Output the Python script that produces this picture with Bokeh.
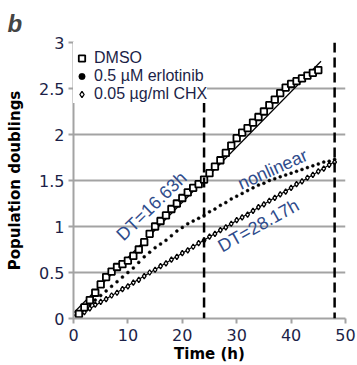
from bokeh.plotting import figure
from bokeh.models import Span, Legend, LegendItem, FixedTicker, ColumnDataSource
from bokeh.core.properties import value
from bokeh.embed import file_html
from bokeh.resources import INLINE

# ---------------- data ----------------
hours_dmso = [0, 1, 2, 3, 4, 5, 6, 7, 8, 9, 10, 11, 12, 13, 14, 15, 16, 17, 18, 19,
              20, 21, 22, 23, 24, 25, 26, 27, 28, 29, 30, 31, 32, 33, 34, 35, 36, 37,
              38, 39, 40, 41, 42, 43, 44, 45]
dmso = [0.00, 0.05, 0.12, 0.20, 0.28, 0.37, 0.45, 0.51, 0.56, 0.59, 0.63, 0.68, 0.75,
        0.83, 0.92, 1.00, 1.06, 1.12, 1.19, 1.25, 1.31, 1.37, 1.42, 1.46, 1.51, 1.58,
        1.65, 1.72, 1.80, 1.88, 1.96, 2.02, 2.07, 2.13, 2.19, 2.25, 2.32, 2.38, 2.45,
        2.51, 2.55, 2.58, 2.61, 2.64, 2.67, 2.70]

hours_drug = [0, 1, 2, 3, 4, 5, 6, 7, 8, 9, 10, 11, 12, 13, 14, 15, 16, 17, 18, 19,
              20, 21, 22, 23, 24, 25, 26, 27, 28, 29, 30, 31, 32, 33, 34, 35, 36, 37,
              38, 39, 40, 41, 42, 43, 44, 45, 46, 47, 48]
erlotinib = [0.00, 0.05, 0.10, 0.15, 0.20, 0.25, 0.30, 0.35, 0.40, 0.45, 0.50, 0.55,
             0.61, 0.67, 0.72, 0.77, 0.81, 0.85, 0.90, 0.95, 0.99, 1.03, 1.06, 1.09,
             1.12, 1.16, 1.19, 1.23, 1.26, 1.30, 1.33, 1.36, 1.39, 1.42, 1.45, 1.47,
             1.50, 1.52, 1.54, 1.56, 1.58, 1.60, 1.62, 1.64, 1.66, 1.68, 1.70, 1.71, 1.73]
chx = [0.00, 0.04, 0.07, 0.11, 0.15, 0.18, 0.21, 0.25, 0.28, 0.32, 0.35, 0.39, 0.42,
       0.46, 0.50, 0.53, 0.57, 0.60, 0.64, 0.67, 0.71, 0.74, 0.78, 0.82, 0.85, 0.89,
       0.92, 0.96, 0.99, 1.03, 1.07, 1.10, 1.13, 1.17, 1.21, 1.24, 1.28, 1.31, 1.35,
       1.38, 1.42, 1.46, 1.49, 1.53, 1.56, 1.60, 1.63, 1.67, 1.70]

dt_dmso = 16.63
dt_chx = 28.17
dmso_fit_intercept = 0.06
dmso_fit_span = [0, 45.5]
chx_fit_span = [0, 48]
marker_times = [24, 48]

x_ticks = [0, 10, 20, 30, 40, 50]
y_ticks = [0, 0.5, 1, 1.5, 2, 2.5, 3]
y_tick_labels = ["0", "0.5", "1", "1.5", "2", "2.5", "3"]
legend_labels = ["DMSO", "0.5 \u00b5M erlotinib", "0.05 \u00b5g/ml CHX"]
annotation_texts = ["DT=16.63h", "nonlinear", "DT=28.17h"]

# ---------------- styles ----------------
GRID = "#a3a3a3"
NAVY = "#1c1f48"
BLUE = "#2f4c8c"

p = figure(width=357, height=365, x_range=(0, 50), y_range=(0, 3),
           output_backend="svg", toolbar_location=None,
           min_border_left=73, min_border_right=12, min_border_top=42,
           min_border_bottom=46)
p.outline_line_color = None
p.background_fill_color = "white"

# title "b"
p.title.text = "b"
p.title.text_font = "Liberation Sans"
p.title.text_font_style = "bold italic"
p.title.text_font_size = "24px"
p.title.align = "left"
p.title.offset = -66
p.title.standoff = 12

# grids
p.xgrid.grid_line_color = None
p.ygrid.grid_line_color = GRID
p.ygrid.grid_line_width = 2

# axes
for ax in (p.xaxis[0], p.yaxis[0]):
    ax.axis_line_color = GRID
    ax.axis_line_width = 2
    ax.major_tick_line_color = GRID
    ax.major_tick_line_width = 2
    ax.major_tick_out = 5
    ax.major_tick_in = 0
    ax.minor_tick_line_color = None
    ax.major_label_text_font = "DejaVu Sans"
    ax.major_label_text_font_size = "16px"
    ax.major_label_text_color = NAVY
    ax.axis_label_text_font = "DejaVu Sans"
    ax.axis_label_text_font_style = "bold"
    ax.axis_label_text_font_size = "15px"
    ax.axis_label_text_color = "black"

p.xaxis.ticker = FixedTicker(ticks=x_ticks)
p.yaxis.ticker = FixedTicker(ticks=y_ticks)
p.yaxis.major_label_overrides = {t: l for t, l in zip(y_ticks, y_tick_labels)}
p.xaxis.axis_label = "Time (h)"
p.yaxis.axis_label = "Population doublings"
p.xaxis.major_label_standoff = 5
p.xaxis.axis_label_standoff = 1
p.yaxis.major_label_standoff = 4
p.yaxis.axis_label_standoff = 12

# dashed time markers
for t in marker_times:
    p.add_layout(Span(location=t, dimension="height", line_color="black",
                      line_width=2.5, line_dash="10 5"))

# fitted lines
dmso_fit_y = [dmso_fit_intercept + t / dt_dmso for t in dmso_fit_span]
chx_fit_y = [t / dt_chx for t in chx_fit_span]
p.line(dmso_fit_span, dmso_fit_y, line_color="black", line_width=1.2)
p.line(chx_fit_span, chx_fit_y, line_color="black", line_width=1.2)

# series
src_dmso = ColumnDataSource(dict(t=hours_dmso, y=dmso))
src_drug = ColumnDataSource(dict(t=hours_drug, e=erlotinib, c=chx))

r_chx = p.scatter("t", "c", source=src_drug, marker="diamond", size=5.5,
                  fill_color="white", line_color="black", line_width=1.3)
r_erl = p.scatter("t", "e", source=src_drug, marker="circle", size=3.0,
                  fill_color="black", line_color="black", line_width=0.5)
r_dmso = p.scatter("t", "y", source=src_dmso, marker="square", size=6.5,
                   fill_color="white", line_color="black", line_width=1.8)

# annotations
p.text(x=[14.35], y=[1.22], text=[annotation_texts[0]], angle=0.77,
       text_font=value("Liberation Sans"), text_font_size="18px",
       text_color=BLUE, text_align="center", text_baseline="middle")
p.text(x=[36.6], y=[1.62], text=[annotation_texts[1]], angle=0.42,
       text_font=value("Liberation Sans"), text_font_size="18px",
       text_color=BLUE, text_align="center", text_baseline="middle")
p.text(x=[34.0], y=[1.01], text=[annotation_texts[2]], angle=0.51,
       text_font=value("Liberation Sans"), text_font_size="18px",
       text_color=BLUE, text_align="center", text_baseline="middle")

# legend
legend = Legend(items=[LegendItem(label=legend_labels[0], renderers=[r_dmso]),
                       LegendItem(label=legend_labels[1], renderers=[r_erl]),
                       LegendItem(label=legend_labels[2], renderers=[r_chx])],
                location="top_left", background_fill_color="white",
                background_fill_alpha=1.0, border_line_color=None,
                title=" ", title_text_font_size="6px", title_standoff=1,
                label_text_font="Liberation Sans", label_text_font_size="16px",
                label_text_line_height=0.9,
                label_text_color=NAVY, glyph_width=17, glyph_height=16,
                label_height=16, label_standoff=4, spacing=0, padding=4,
                margin=0)
p.add_layout(legend)

open("out.html", "w").write(file_html(p, INLINE))
